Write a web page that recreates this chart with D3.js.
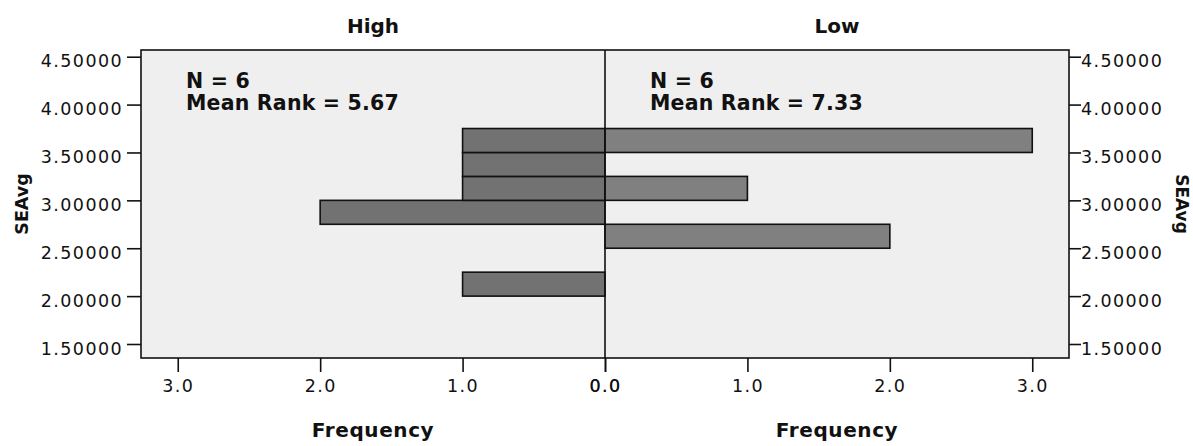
<!DOCTYPE html>
<html>
<head>
<meta charset="utf-8">
<script src="https://cdn.jsdelivr.net/npm/d3@7"></script>
<style>
  html, body { margin: 0; padding: 0; background: #ffffff; }
  svg { display: block; }
  text { font-family: "DejaVu Sans", sans-serif; fill: #111; }
</style>
</head>
<body>
<svg id="chart" width="1193" height="446"></svg>
<script>
// ---- data ----
const panels = ["High", "Low"];
const binStarts = [2.0, 2.25, 2.5, 2.75, 3.0, 3.25, 3.5];
const binWidth = 0.25;
const highFreq = [1, 0, 0, 2, 1, 1, 1];
const lowFreq  = [0, 0, 2, 0, 1, 0, 3];
const panelN = [6, 6];
const panelMeanRank = ["5.67", "7.33"];
const yTicks = [1.5, 2.0, 2.5, 3.0, 3.5, 4.0, 4.5];
const xTicks = [0, 1, 2, 3];
const xTickLabels = ["0.0", "1.0", "2.0", "3.0"];
const yTitle = "SEAvg";
const xTitle = "Frequency";

// ---- layout ----
const svg = d3.select("#chart");
const frame = { left: 141, right: 1069, top: 50, bottom: 358 };
const center = 605;
const xMax = 3.258;

const y = d3.scaleLinear().domain([1.5, 4.5]).range([344, 56.7]);
const xLeft = d3.scaleLinear().domain([0, xMax]).range([center, frame.left]);
const xRight = d3.scaleLinear().domain([0, xMax]).range([center, frame.right]);

// background
svg.append("rect")
  .attr("x", frame.left).attr("y", frame.top)
  .attr("width", frame.right - frame.left).attr("height", frame.bottom - frame.top)
  .attr("fill", "#efefef");

// bars
function drawBars(freqs, xs, fill) {
  const data = binStarts.map((b, i) => ({ b, f: freqs[i] })).filter(d => d.f > 0);
  svg.append("g").selectAll("rect").data(data).join("rect")
    .attr("x", d => Math.min(xs(0), xs(d.f)))
    .attr("width", d => Math.abs(xs(d.f) - xs(0)))
    .attr("y", d => y(d.b + binWidth))
    .attr("height", d => y(d.b) - y(d.b + binWidth))
    .attr("fill", fill)
    .attr("stroke", "#111")
    .attr("stroke-width", 1.6);
}
drawBars(highFreq, xLeft, "#727272");
drawBars(lowFreq, xRight, "#808080");

// frame + center line
svg.append("rect")
  .attr("x", frame.left).attr("y", frame.top)
  .attr("width", frame.right - frame.left).attr("height", frame.bottom - frame.top)
  .attr("fill", "none").attr("stroke", "#111").attr("stroke-width", 1.6);
svg.append("line")
  .attr("x1", center).attr("x2", center)
  .attr("y1", frame.top).attr("y2", frame.bottom)
  .attr("stroke", "#111").attr("stroke-width", 1.6);

// y axes
const fmt = d3.format(".5f");
const yAxisL = svg.append("g").attr("transform", `translate(${frame.left},0)`)
  .call(d3.axisLeft(y).tickValues(yTicks).tickFormat(fmt).tickSize(14).tickPadding(4));
const yAxisR = svg.append("g").attr("transform", `translate(${frame.right},0)`)
  .call(d3.axisRight(y).tickValues(yTicks).tickFormat(fmt).tickSize(12).tickPadding(0));
[yAxisL, yAxisR].forEach(g => {
  g.select(".domain").remove();
  g.selectAll(".tick line").attr("stroke", "#111").attr("stroke-width", 1.6);
  g.selectAll(".tick text")
    .attr("dy", "10px")
    .style("font-family", "DejaVu Sans")
    .style("font-size", "17.5px")
    .style("letter-spacing", "1.4px")
    .attr("fill", "#222");
});

// x axes
function xAxis(scale) {
  const g = svg.append("g").attr("transform", `translate(0,${frame.bottom})`)
    .call(d3.axisBottom(scale).tickValues(xTicks)
      .tickFormat((d, i) => xTickLabels[i]).tickSize(14));
  g.select(".domain").remove();
  g.selectAll(".tick line").attr("stroke", "#111").attr("stroke-width", 1.6);
  g.selectAll(".tick text")
    .attr("y", 34).attr("dy", 0)
    .style("font-family", "DejaVu Sans")
    .style("font-size", "17.5px")
    .style("letter-spacing", "1.4px")
    .attr("fill", "#222");
}
xAxis(xLeft);
xAxis(xRight);

// panel titles, annotations, axis titles
const panelCenters = [(frame.left + center) / 2, (center + frame.right) / 2];
const panelLefts = [frame.left, center];
panels.forEach((p, i) => {
  svg.append("text")
    .attr("x", panelCenters[i]).attr("y", 33)
    .attr("text-anchor", "middle")
    .style("font-weight", "bold").style("font-size", "20px")
    .text(p);
  const t = svg.append("text")
    .attr("x", panelLefts[i] + 45).attr("y", 88)
    .style("font-weight", "bold").style("font-size", "20.5px")
    .style("letter-spacing", "0.2px");
  t.append("tspan").attr("x", panelLefts[i] + 45).attr("y", 88).text(`N = ${panelN[i]}`);
  t.append("tspan").attr("x", panelLefts[i] + 45).attr("y", 110).text(`Mean Rank = ${panelMeanRank[i]}`);
  svg.append("text")
    .attr("x", panelCenters[i]).attr("y", 437)
    .attr("text-anchor", "middle")
    .style("font-weight", "bold").style("font-size", "20px")
    .style("letter-spacing", "0.6px")
    .text(xTitle);
});

const yMid = (frame.top + frame.bottom) / 2;
svg.append("text")
  .attr("transform", `translate(28,${yMid}) rotate(-90)`)
  .attr("text-anchor", "middle")
  .style("font-weight", "bold").style("font-size", "17.5px")
  .text(yTitle);
svg.append("text")
  .attr("transform", `translate(1176,${yMid}) rotate(90)`)
  .attr("text-anchor", "middle")
  .style("font-weight", "bold").style("font-size", "17px")
  .text(yTitle);
</script>
</body>
</html>
